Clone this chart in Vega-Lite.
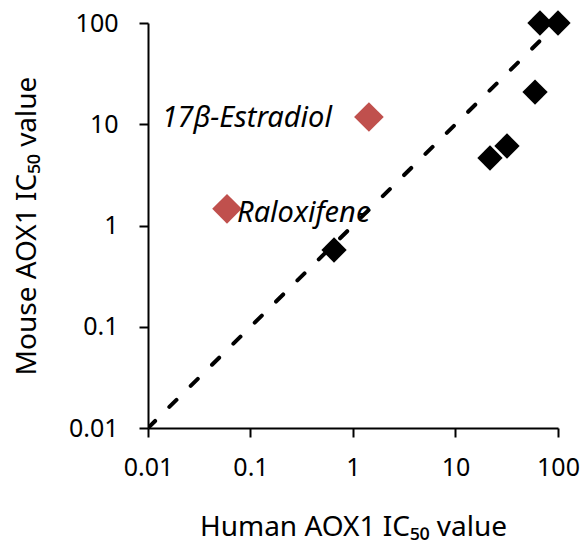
{
  "$schema": "https://vega.github.io/schema/vega-lite/v6.json",
  "autosize": {"type": "none"},
  "padding": {"left": 148, "top": 23, "right": 25, "bottom": 117},
  "width": 410,
  "height": 405,
  "config": {
    "view": {"stroke": null},
    "font": "Noto Sans",
    "axis": {
      "grid": false,
      "ticks": true,
      "tickSize": 9,
      "tickWidth": 2,
      "tickColor": "#000000",
      "domainColor": "#000000",
      "domainWidth": 2,
      "labelFont": "Noto Sans",
      "labelFontSize": 25,
      "labelColor": "#000000",
      "titleFont": "Noto Sans",
      "titleFontSize": 28,
      "titleFontWeight": "normal",
      "titleColor": "#000000"
    }
  },
  "datasets": {
    "points": [
      {"compound": "A", "human": 0.653, "mouse": 0.573, "group": "other"},
      {"compound": "B", "human": 21.7, "mouse": 4.64, "group": "other"},
      {"compound": "C", "human": 31.8, "mouse": 6.1, "group": "other"},
      {"compound": "D", "human": 59.7, "mouse": 20.8, "group": "other"},
      {"compound": "E", "human": 66.7, "mouse": 100, "group": "other"},
      {"compound": "F", "human": 100, "mouse": 100, "group": "other"},
      {"compound": "17β-Estradiol", "human": 1.43, "mouse": 11.8, "group": "highlight"},
      {"compound": "Raloxifene", "human": 0.059, "mouse": 1.46, "group": "highlight"}
    ],
    "identity": [
      {"human": 0.01, "mouse": 0.01},
      {"human": 100, "mouse": 100}
    ],
    "ticks": [
      {"v": 0.01, "kind": "major"}, {"v": 0.02, "kind": "minor"}, {"v": 0.03, "kind": "minor"}, {"v": 0.04, "kind": "minor"}, {"v": 0.05, "kind": "minor"}, {"v": 0.06, "kind": "minor"}, {"v": 0.07, "kind": "minor"}, {"v": 0.08, "kind": "minor"}, {"v": 0.09, "kind": "minor"},
      {"v": 0.1, "kind": "major"}, {"v": 0.2, "kind": "minor"}, {"v": 0.3, "kind": "minor"}, {"v": 0.4, "kind": "minor"}, {"v": 0.5, "kind": "minor"}, {"v": 0.6, "kind": "minor"}, {"v": 0.7, "kind": "minor"}, {"v": 0.8, "kind": "minor"}, {"v": 0.9, "kind": "minor"},
      {"v": 1, "kind": "major"}, {"v": 2, "kind": "minor"}, {"v": 3, "kind": "minor"}, {"v": 4, "kind": "minor"}, {"v": 5, "kind": "minor"}, {"v": 6, "kind": "minor"}, {"v": 7, "kind": "minor"}, {"v": 8, "kind": "minor"}, {"v": 9, "kind": "minor"},
      {"v": 10, "kind": "major"}, {"v": 20, "kind": "minor"}, {"v": 30, "kind": "minor"}, {"v": 40, "kind": "minor"}, {"v": 50, "kind": "minor"}, {"v": 60, "kind": "minor"}, {"v": 70, "kind": "minor"}, {"v": 80, "kind": "minor"}, {"v": 90, "kind": "minor"},
      {"v": 100, "kind": "major"}
    ]
  },
  "encoding": {
    "x": {
      "field": "human",
      "type": "quantitative",
      "scale": {"type": "log", "domain": [0.01, 100], "nice": false},
      "axis": {
        "title": "Human AOX1 IC₅₀ value",
        "titlePadding": 33,
        "labelPadding": 18,
        "values": [0.01, 0.1, 1, 10, 100],
        "format": "~g",
        "labelFlush": false,
        "labelOverlap": false
      }
    },
    "y": {
      "field": "mouse",
      "type": "quantitative",
      "scale": {"type": "log", "domain": [0.01, 100], "nice": false},
      "axis": {
        "title": "Mouse AOX1 IC₅₀ value",
        "titlePadding": 27,
        "labelPadding": 21,
        "values": [0.01, 0.1, 1, 10, 100],
        "format": "~g",
        "labelFlush": false,
        "labelOverlap": false
      }
    }
  },
  "layer": [
    {
      "data": {"name": "ticks"},
      "transform": [{"filter": "datum.kind === 'major'"}],
      "mark": {"type": "rule", "yOffset": -9, "y2Offset": 9, "strokeWidth": 2, "color": "#000000"},
      "encoding": {"x": {"field": "v", "type": "quantitative"}, "y": {"datum": 0.01, "type": "quantitative"}, "y2": {"datum": 0.01}}
    },
    {
      "data": {"name": "ticks"},
      "transform": [{"filter": "datum.kind === 'minor'"}],
      "mark": {"type": "rule", "yOffset": 0, "y2Offset": 6, "strokeWidth": 2, "color": "#000000"},
      "encoding": {"x": {"field": "v", "type": "quantitative"}, "y": {"datum": 0.01, "type": "quantitative"}, "y2": {"datum": 0.01}}
    },
    {
      "data": {"name": "ticks"},
      "transform": [{"filter": "datum.kind === 'major'"}],
      "mark": {"type": "rule", "xOffset": -9, "x2Offset": 9, "strokeWidth": 2, "color": "#000000"},
      "encoding": {"y": {"field": "v", "type": "quantitative"}, "x": {"datum": 0.01, "type": "quantitative"}, "x2": {"datum": 0.01}}
    },
    {
      "data": {"name": "ticks"},
      "transform": [{"filter": "datum.kind === 'minor'"}],
      "mark": {"type": "rule", "xOffset": -6, "x2Offset": 0, "strokeWidth": 2, "color": "#000000"},
      "encoding": {"y": {"field": "v", "type": "quantitative"}, "x": {"datum": 0.01, "type": "quantitative"}, "x2": {"datum": 0.01}}
    },
    {
      "data": {"name": "points"},
      "transform": [{"filter": "datum.group === 'other'"}],
      "mark": {"type": "point", "shape": "diamond", "filled": true, "color": "#000000", "opacity": 1, "size": 640}
    },
    {
      "data": {"name": "points"},
      "transform": [{"filter": "datum.group === 'highlight'"}],
      "mark": {"type": "point", "shape": "diamond", "filled": true, "color": "#C0504D", "opacity": 1, "size": 880}
    },
    {
      "data": {"name": "identity"},
      "mark": {"type": "line", "color": "#000000", "strokeWidth": 4, "strokeDash": [10, 20], "strokeCap": "round", "clip": true},
      "encoding": {}
    },
    {
      "data": {"name": "points"},
      "transform": [{"filter": "datum.compound === '17β-Estradiol'"}],
      "mark": {"type": "text", "align": "right", "baseline": "middle", "dx": -37, "dy": 1, "fontSize": 29, "fontStyle": "italic", "color": "#000000"},
      "encoding": {"text": {"field": "compound"}}
    },
    {
      "data": {"name": "points"},
      "transform": [{"filter": "datum.compound === 'Raloxifene'"}],
      "mark": {"type": "text", "align": "left", "baseline": "middle", "dx": 10, "dy": 4, "fontSize": 29, "fontStyle": "italic", "color": "#000000"},
      "encoding": {"text": {"field": "compound"}}
    }
  ]
}
